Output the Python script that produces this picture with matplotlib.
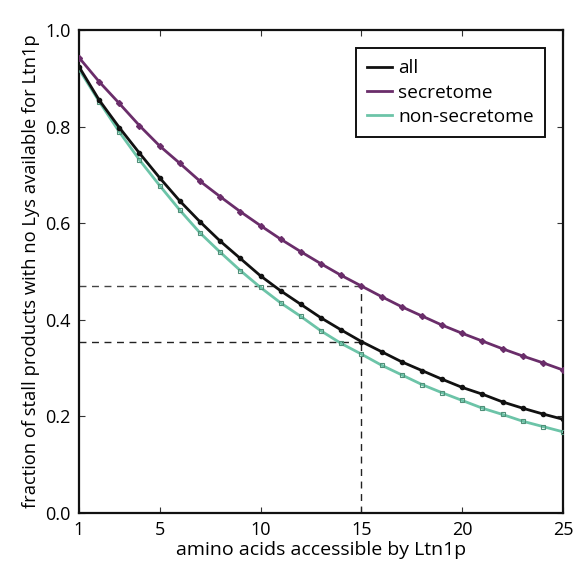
import matplotlib
matplotlib.use("Agg")
import matplotlib.pyplot as plt

plt.rcParams['font.family'] = ['Open Sans', 'DejaVu Sans']

# amino acids accessible (x) and fraction values
n_aa = list(range(1, 26))
frac_all = [0.924, 0.855, 0.798, 0.745, 0.694, 0.646, 0.603, 0.563, 0.527, 0.491,
            0.460, 0.432, 0.404, 0.379, 0.355, 0.334, 0.313, 0.295, 0.277, 0.260,
            0.246, 0.230, 0.217, 0.205, 0.194]
frac_secretome = [0.943, 0.893, 0.848, 0.802, 0.760, 0.724, 0.687, 0.655, 0.624, 0.595,
                  0.567, 0.541, 0.516, 0.492, 0.470, 0.448, 0.427, 0.408, 0.389, 0.372,
                  0.356, 0.340, 0.325, 0.311, 0.296]
frac_nonsec = [0.919, 0.852, 0.789, 0.731, 0.678, 0.627, 0.580, 0.540, 0.502, 0.467,
               0.435, 0.407, 0.377, 0.351, 0.329, 0.306, 0.286, 0.266, 0.249, 0.233,
               0.217, 0.204, 0.190, 0.179, 0.168]
mark_x = 15
mark_all = 0.355
mark_sec = 0.470

fig = plt.figure(figsize=(5.74, 5.73), dpi=100)
ax = fig.add_axes([0.1376, 0.1047, 0.8434, 0.8429])

# guide lines
ax.plot([1, mark_x], [mark_sec, mark_sec], ls=(0, (5, 4)), color='#444444', lw=1)
ax.plot([1, mark_x], [mark_all, mark_all], ls=(0, (5, 4)), color='#222222', lw=1)
ax.plot([mark_x, mark_x], [0, mark_sec], ls=(0, (5, 4)), color='#222222', lw=1)

ax.plot(n_aa, frac_all, color='#111111', lw=2, marker='o', ms=3, label='all', zorder=4)
ax.plot(n_aa, frac_secretome, color='#6a2d6a', lw=2, marker='D', ms=3, label='secretome', zorder=3)
ax.plot(n_aa, frac_nonsec, color='#6cc4a8', lw=2, marker='s', ms=3.5, mfc='none',
        mec='#4f8f78', mew=0.8, label='non-secretome', zorder=3)

ax.set_xlim(1, 25)
ax.set_ylim(0, 1)
ax.set_xticks([1, 5, 10, 15, 20, 25])
ax.set_yticks([0, 0.2, 0.4, 0.6, 0.8, 1.0])
ax.set_yticklabels(['0.0', '0.2', '0.4', '0.6', '0.8', '1.0'])
ax.tick_params(direction='in', length=4, width=0.8, top=True, right=True,
               labelsize=13, pad=6, color='#333333')
for s in ax.spines.values():
    s.set_linewidth(1.6)
    s.set_color('#111111')

ax.set_xlabel('amino acids accessible by Ltn1p', fontsize=14, labelpad=1)
ax.set_ylabel('fraction of stall products with no Lys available for Ltn1p', fontsize=13.2, labelpad=4)

leg = ax.legend(loc='upper right', bbox_to_anchor=(0.963, 0.963), borderaxespad=0,
                fontsize=13.8, handlelength=1.3, handletextpad=0.3, borderpad=0.6,
                labelspacing=0.32, fancybox=False, framealpha=1)
leg.get_frame().set_edgecolor('#111111')
leg.get_frame().set_linewidth(1.4)
for h in leg.legend_handles:
    h.set_marker('')

fig.savefig('out.png', dpi=100)
